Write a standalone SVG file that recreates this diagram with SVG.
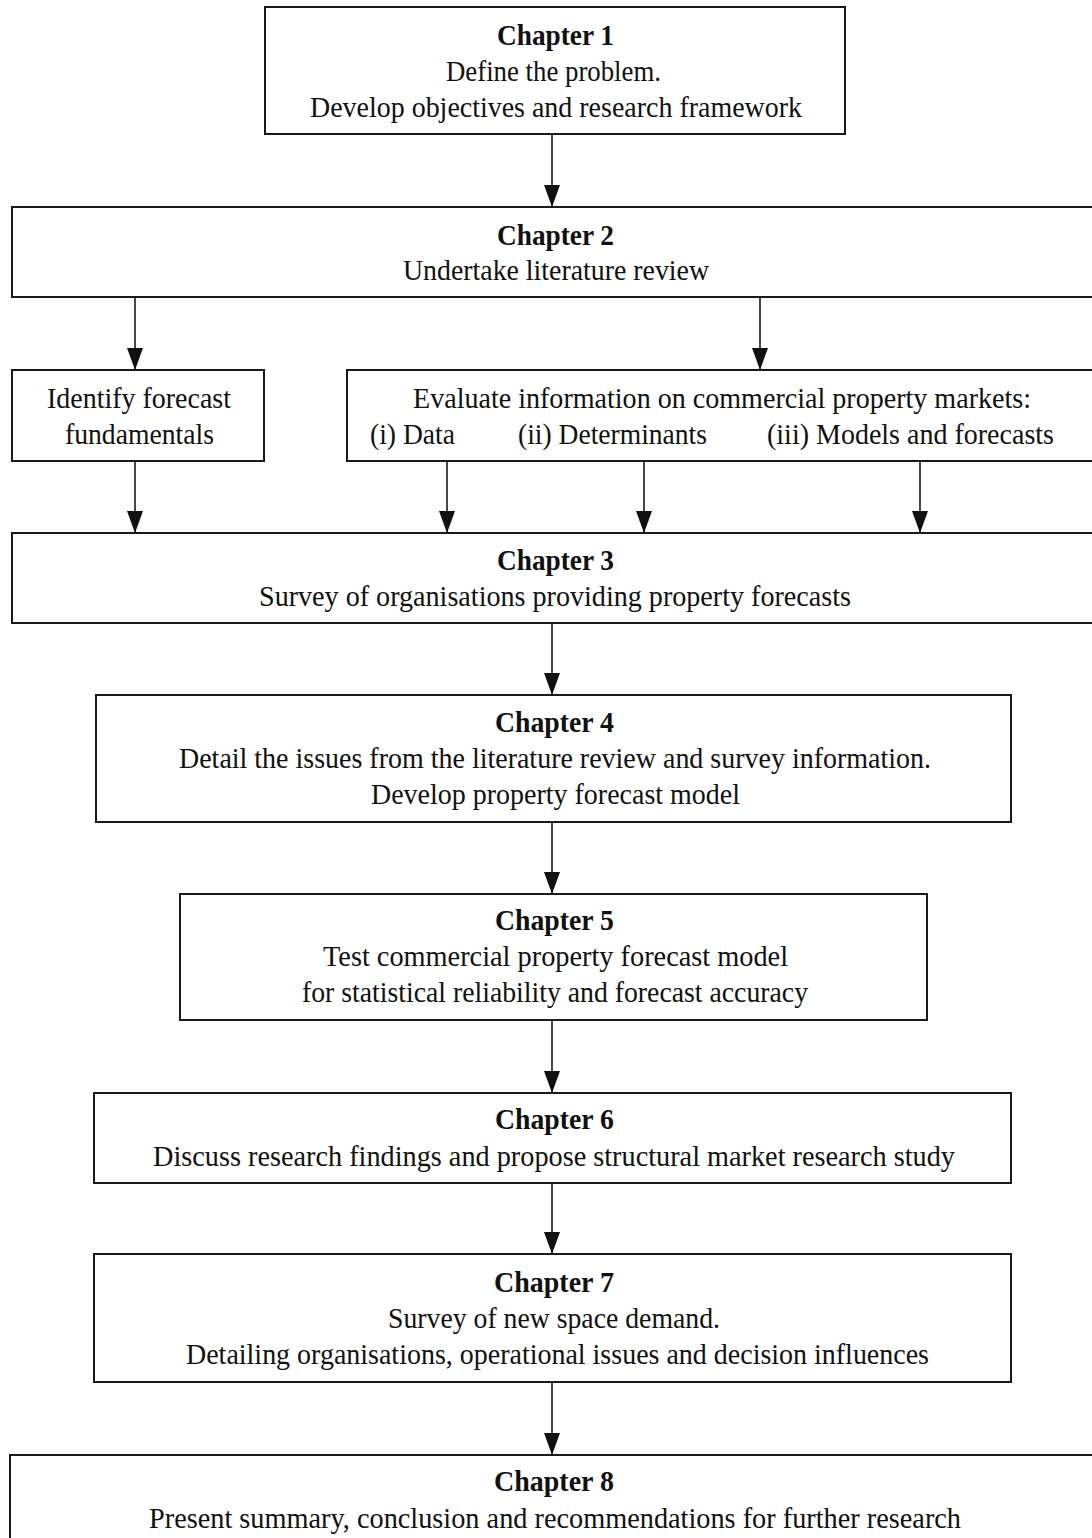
<svg xmlns="http://www.w3.org/2000/svg" width="1092" height="1538" viewBox="0 0 1092 1538">
  <defs>
    <marker id="arrow" markerUnits="userSpaceOnUse" markerWidth="22" markerHeight="16" viewBox="0 0 22 16" refX="22" refY="8" orient="auto">
      <polygon points="0,0 22,8 0,16" fill="#111"/>
    </marker>
    <style>
      .box { fill: #fff; stroke: #1a1a1a; stroke-width: 2; }
      .t { font-family: "Liberation Serif", "Times New Roman", serif; font-size: 29px; fill: #111; text-anchor: middle; }
      .l { text-anchor: start; }
      .b { font-weight: bold; }
      .conn line { stroke: #1a1a1a; stroke-width: 1.6; marker-end: url(#arrow); }
    </style>
  </defs>
  <rect width="1092" height="1538" fill="#fff"/>

  <!-- connectors -->
  <g id="connectors" class="conn">
    <line x1="552" y1="134" x2="552" y2="207"/>
    <line x1="135" y1="297" x2="135" y2="370"/>
    <line x1="760" y1="297" x2="760" y2="370"/>
    <line x1="135" y1="461" x2="135" y2="533"/>
    <line x1="447" y1="461" x2="447" y2="533"/>
    <line x1="644" y1="461" x2="644" y2="533"/>
    <line x1="920" y1="461" x2="920" y2="533"/>
    <line x1="552" y1="623" x2="552" y2="695"/>
    <line x1="552" y1="822" x2="552" y2="894"/>
    <line x1="552" y1="1020" x2="552" y2="1093"/>
    <line x1="552" y1="1183" x2="552" y2="1254"/>
    <line x1="552" y1="1382" x2="552" y2="1455"/>
  </g>

  <!-- Chapter 1 -->
  <g id="chapter1">
    <rect class="box" x="265" y="7" width="580" height="127"/>
    <text class="t b" x="555.5" y="45" textLength="117" lengthAdjust="spacingAndGlyphs">Chapter 1</text>
    <text class="t" x="553.5" y="81" textLength="215" lengthAdjust="spacingAndGlyphs">Define the problem.</text>
    <text class="t" x="556" y="117" textLength="492" lengthAdjust="spacingAndGlyphs">Develop objectives and research framework</text>
  </g>

  <!-- Chapter 2 -->
  <g id="chapter2">
    <rect class="box" x="12" y="207" width="1090" height="90"/>
    <text class="t b" x="555.5" y="245" textLength="117" lengthAdjust="spacingAndGlyphs">Chapter 2</text>
    <text class="t" x="556" y="280" textLength="306" lengthAdjust="spacingAndGlyphs">Undertake literature review</text>
  </g>

  <!-- Identify forecast fundamentals -->
  <g id="fundamentals">
    <rect class="box" x="12" y="370" width="252" height="91"/>
    <text class="t" x="139" y="408" textLength="184" lengthAdjust="spacingAndGlyphs">Identify forecast</text>
    <text class="t" x="139.5" y="444" textLength="149" lengthAdjust="spacingAndGlyphs">fundamentals</text>
  </g>

  <!-- Evaluate information -->
  <g id="evaluate">
    <rect class="box" x="347" y="370" width="755" height="91"/>
    <text class="t" x="722" y="408" textLength="618" lengthAdjust="spacingAndGlyphs">Evaluate information on commercial property markets:</text>
    <text class="t l" x="370" y="444" textLength="85" lengthAdjust="spacingAndGlyphs">(i) Data</text>
    <text class="t l" x="518" y="444" textLength="189" lengthAdjust="spacingAndGlyphs">(ii) Determinants</text>
    <text class="t l" x="767" y="444" textLength="287" lengthAdjust="spacingAndGlyphs">(iii) Models and forecasts</text>
  </g>

  <!-- Chapter 3 -->
  <g id="chapter3">
    <rect class="box" x="12" y="533" width="1090" height="90"/>
    <text class="t b" x="555.5" y="570" textLength="117" lengthAdjust="spacingAndGlyphs">Chapter 3</text>
    <text class="t" x="555" y="606" textLength="592" lengthAdjust="spacingAndGlyphs">Survey of organisations providing property forecasts</text>
  </g>

  <!-- Chapter 4 -->
  <g id="chapter4">
    <rect class="box" x="96" y="695" width="915" height="127"/>
    <text class="t b" x="554.5" y="732" textLength="119" lengthAdjust="spacingAndGlyphs">Chapter 4</text>
    <text class="t" x="555" y="768" textLength="752" lengthAdjust="spacingAndGlyphs">Detail the issues from the literature review and survey information.</text>
    <text class="t" x="555.5" y="804" textLength="369" lengthAdjust="spacingAndGlyphs">Develop property forecast model</text>
  </g>

  <!-- Chapter 5 -->
  <g id="chapter5">
    <rect class="box" x="180" y="894" width="747" height="126"/>
    <text class="t b" x="554.5" y="930" textLength="119" lengthAdjust="spacingAndGlyphs">Chapter 5</text>
    <text class="t" x="555.5" y="966" textLength="465" lengthAdjust="spacingAndGlyphs">Test commercial property forecast model</text>
    <text class="t" x="555" y="1002" textLength="506" lengthAdjust="spacingAndGlyphs">for statistical reliability and forecast accuracy</text>
  </g>

  <!-- Chapter 6 -->
  <g id="chapter6">
    <rect class="box" x="94" y="1093" width="917" height="90"/>
    <text class="t b" x="554.5" y="1129" textLength="119" lengthAdjust="spacingAndGlyphs">Chapter 6</text>
    <text class="t" x="554" y="1166" textLength="802" lengthAdjust="spacingAndGlyphs">Discuss research findings and propose structural market research study</text>
  </g>

  <!-- Chapter 7 -->
  <g id="chapter7">
    <rect class="box" x="94" y="1254" width="917" height="128"/>
    <text class="t b" x="554" y="1292" textLength="120" lengthAdjust="spacingAndGlyphs">Chapter 7</text>
    <text class="t" x="554" y="1328" textLength="332" lengthAdjust="spacingAndGlyphs">Survey of new space demand.</text>
    <text class="t" x="557.5" y="1364" textLength="743" lengthAdjust="spacingAndGlyphs">Detailing organisations, operational issues and decision influences</text>
  </g>

  <!-- Chapter 8 -->
  <g id="chapter8">
    <rect class="box" x="10" y="1455" width="1092" height="100"/>
    <text class="t b" x="554" y="1491" textLength="120" lengthAdjust="spacingAndGlyphs">Chapter 8</text>
    <text class="t" x="555" y="1528" textLength="812" lengthAdjust="spacingAndGlyphs">Present summary, conclusion and recommendations for further research</text>
  </g>
</svg>
